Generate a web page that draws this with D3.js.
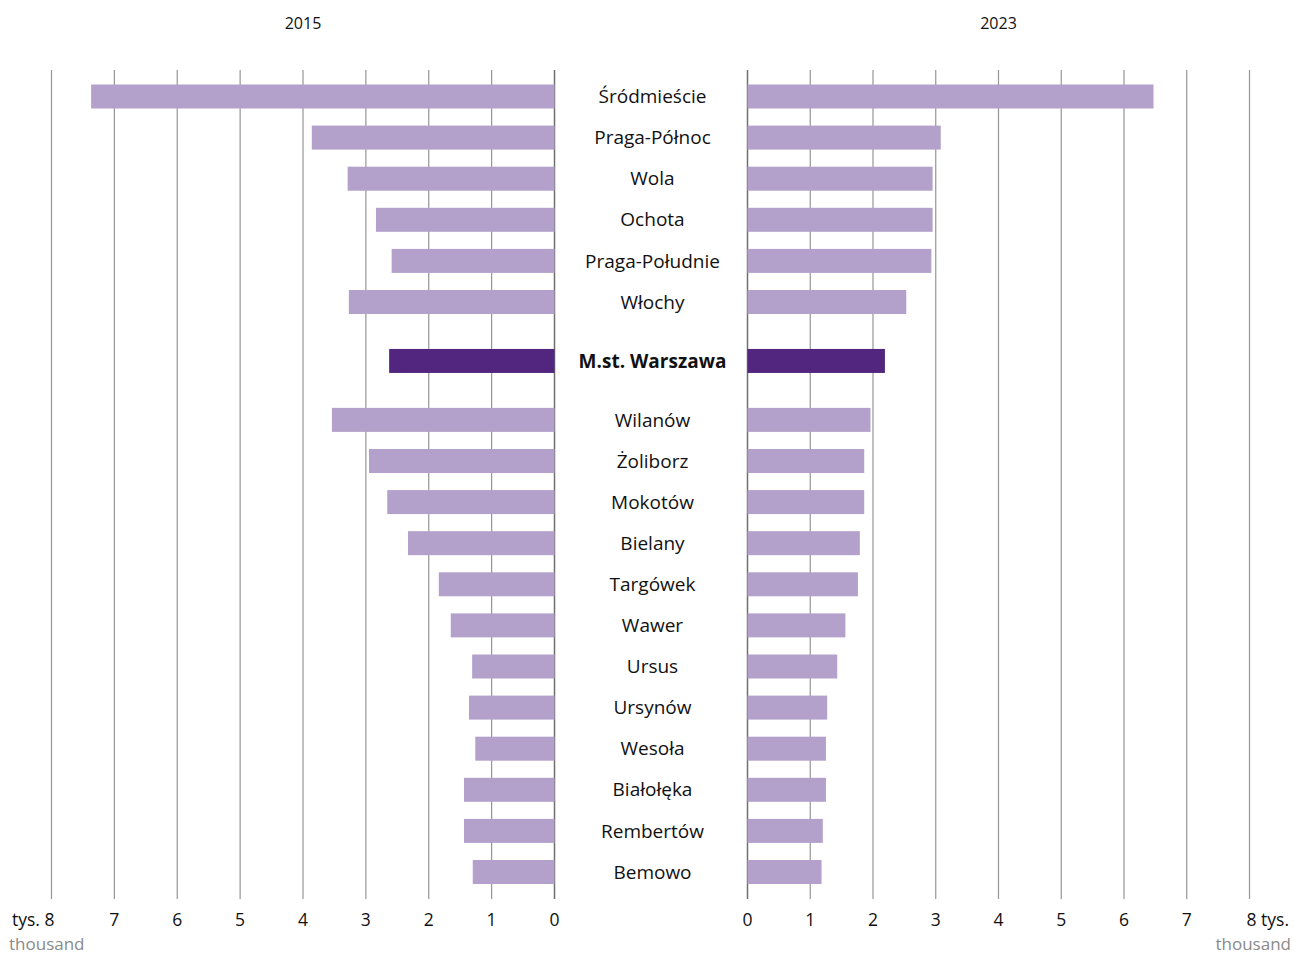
<!DOCTYPE html>
<html>
<head>
<meta charset="utf-8">
<script src="https://cdn.jsdelivr.net/npm/d3@7"></script>
<style>
  html, body { margin: 0; padding: 0; background: #fff; }
  svg { display: block; font-family: "Open Sans", "Noto Sans", sans-serif; }
</style>
</head>
<body>
<svg id="chart" width="1295" height="955"></svg>
<script>
// Districts of Warsaw, top to bottom; the city total sits between the two groups
const districts = [
  "Śródmieście", "Praga-Północ", "Wola", "Ochota", "Praga-Południe", "Włochy",
  "M.st. Warszawa",
  "Wilanów", "Żoliborz", "Mokotów", "Bielany", "Targówek", "Wawer", "Ursus",
  "Ursynów", "Wesoła", "Białołęka", "Rembertów", "Bemowo"
];
const totalName = "M.st. Warszawa";

// values in thousands
const values2015 = [7.37, 3.86, 3.29, 2.84, 2.59, 3.27, 2.63, 3.54, 2.95, 2.66, 2.33, 1.84, 1.65, 1.31, 1.36, 1.26, 1.44, 1.44, 1.30];
const values2023 = [6.47, 3.08, 2.95, 2.95, 2.93, 2.53, 2.19, 1.96, 1.86, 1.86, 1.79, 1.76, 1.56, 1.43, 1.27, 1.25, 1.25, 1.20, 1.18];

const yearLabels = ["2015", "2023"];
const tickValues = [0, 1, 2, 3, 4, 5, 6, 7, 8];

const svg = d3.select("#chart");

const colorLight = "#b3a1cc";
const colorDark = "#52267f";

// vertical slot for each row: extra space around the city total
const totalIdx = districts.indexOf(totalName);
const gapExtra = 0.434;
const slot = districts.map((d, i) => i + (i >= totalIdx ? gapExtra : 0) + (i > totalIdx ? gapExtra : 0));

const y = d3.scaleLinear().domain([0, slot[slot.length - 1]]).range([96.5, 872]);
const barH = 24;

const xLeft = d3.scaleLinear().domain([0, 8]).range([554.5, 51.5]);
const xRight = d3.scaleLinear().domain([0, 8]).range([747.5, 1249.5]);

const gridTop = 70, gridBottom = 899;

const rows = districts.map((name, i) => ({ name, v15: values2015[i], v23: values2023[i], s: slot[i] }));

function panel(x, key, side) {
  const g = svg.append("g");
  // grid lines
  g.selectAll("line.grid")
    .data(tickValues)
    .join("line")
    .attr("x1", d => x(d)).attr("x2", d => x(d))
    .attr("y1", gridTop).attr("y2", gridBottom)
    .attr("stroke", d => d === 0 ? "#6f6f6f" : "#959595")
    .attr("stroke-width", d => d === 0 ? 1.5 : 1.2);

  // bars
  g.selectAll("rect.bar")
    .data(rows)
    .join("rect")
    .attr("x", d => Math.min(x(0), x(d[key])))
    .attr("width", d => Math.abs(x(d[key]) - x(0)))
    .attr("y", d => y(d.s) - barH / 2)
    .attr("height", barH)
    .attr("fill", d => d.name === totalName ? colorDark : colorLight);

  // tick labels
  g.selectAll("text.tick")
    .data(tickValues)
    .join("text")
    .attr("x", d => {
      if (d === 8) return side === "left" ? x(d) + 3 : x(d) - 3;
      return x(d);
    })
    .attr("y", 926)
    .attr("text-anchor", d => d === 8 ? (side === "left" ? "end" : "start") : "middle")
    .attr("font-size", 17.5)
    .attr("fill", "#111")
    .text(d => d === 8 ? (side === "left" ? "tys. 8" : "8 tys.") : d);
}

panel(xLeft, "v15", "left");
panel(xRight, "v23", "right");

// unit captions under the extreme ticks
svg.append("text")
  .attr("x", 9).attr("y", 950)
  .attr("font-size", 17).attr("fill", "#8a8a8a")
  .text("thousand");
svg.append("text")
  .attr("x", 1291).attr("y", 950)
  .attr("text-anchor", "end")
  .attr("font-size", 17).attr("fill", "#8a8a8a")
  .text("thousand");

// year headers
svg.append("text")
  .attr("x", (xLeft(0) + xLeft(8)) / 2).attr("y", 29)
  .attr("text-anchor", "middle").attr("font-size", 16).attr("fill", "#111")
  .text(yearLabels[0]);
svg.append("text")
  .attr("x", (xRight(0) + xRight(8)) / 2).attr("y", 29)
  .attr("text-anchor", "middle").attr("font-size", 16).attr("fill", "#111")
  .text(yearLabels[1]);

// district names in the centre column
svg.selectAll("text.cat")
  .data(rows)
  .join("text")
  .attr("x", 652.5)
  .attr("y", d => y(d.s))
  .attr("dy", "0.35em")
  .attr("text-anchor", "middle")
  .attr("font-size", 19)
  .attr("font-weight", d => d.name === totalName ? 700 : 400)
  .attr("fill", "#111")
  .text(d => d.name);
</script>
</body>
</html>
